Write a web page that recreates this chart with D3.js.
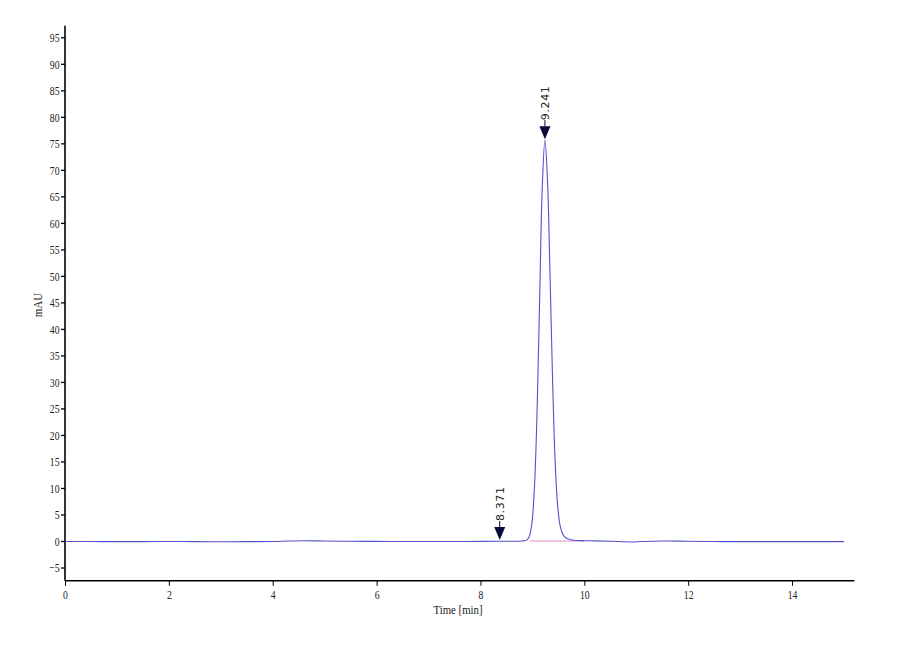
<!DOCTYPE html>
<html><head><meta charset="utf-8">
<script src="https://cdn.jsdelivr.net/npm/d3@7/dist/d3.min.js"></script>
<style>body{margin:0;background:#fff;}svg{display:block;}</style>
</head><body>
<svg id="c" width="900" height="660"></svg>
<script>
// Chromatogram trace (time in min, signal in mAU)
const times = [0,0.5,1,1.5,2,2.5,3,3.5,4,4.3,4.6,5,5.5,6,6.5,7,7.5,8,8.371,8.6,8.8,
  8.89,8.94,8.99,9.04,9.09,9.14,9.19,9.241,9.29,9.34,9.39,9.44,9.49,9.54,9.59,9.64,9.74,9.94,
  10.2,10.5,10.9,11.1,11.5,12,12.5,13,13.5,14,14.5,15];
const signal = [-0.1,-0.1,-0.12,-0.12,-0.1,-0.12,-0.15,-0.12,-0.1,0.0,0.05,0.0,-0.05,-0.08,-0.1,-0.1,-0.1,-0.08,-0.05,-0.05,0.0,
  0.17,0.84,3.33,10.2,24.5,45.9,66.7,75.6,68.2,50.0,29.8,14.5,6.2,2.6,1.2,0.6,0.25,0.08,
  0.02,-0.05,-0.18,-0.1,0.0,-0.05,-0.1,-0.12,-0.12,-0.12,-0.12,-0.12];
// Peak annotations
const peakTimes = [8.371, 9.241];
const peakHeights = [0.0, 75.6];
const peakLabels = ["8.371", "9.241"];
// Integration baseline segment
const baseStart = [8.95], baseEnd = [10.0];
// Axis ticks
const xTicks = [0,2,4,6,8,10,12,14];
const yTicks = [-5,0,5,10,15,20,25,30,35,40,45,50,55,60,65,70,75,80,85,90,95];

const svg = d3.select("#c");
const x = d3.scaleLinear().domain([0,15]).range([65,844]);
const y = d3.scaleLinear().domain([0,95]).range([541,37.3]);
const xAxisY = y(-7.5), yTop = y(97.2), xRight = x(15.2);
const font = "'Liberation Serif','Times New Roman',serif";
const SX = 0.72;

// axes
const gy = svg.append("g").attr("transform","translate(65,0)")
  .call(d3.axisLeft(y).tickValues(yTicks).tickSize(4).tickSizeOuter(0).tickPadding(2));
gy.select(".domain").remove();
svg.append("line").attr("x1",65).attr("x2",65).attr("y1",yTop).attr("y2",xAxisY)
  .attr("stroke","#000").attr("stroke-width",1.6);
gy.selectAll("text").attr("font-family",font).attr("font-size",13.5).attr("fill","#222")
  .attr("x",-5.5/SX).attr("transform",`scale(${SX},1)`);
gy.selectAll("line").attr("stroke","#000").attr("stroke-width",1.3);

const gx = svg.append("g").attr("transform",`translate(0,${xAxisY})`)
  .call(d3.axisBottom(x).tickValues(xTicks).tickSize(5).tickSizeOuter(0).tickPadding(4));
gx.select(".domain").remove();
svg.append("line").attr("x1",65).attr("x2",xRight).attr("y1",xAxisY).attr("y2",xAxisY)
  .attr("stroke","#000").attr("stroke-width",1.6);
gx.selectAll("text").attr("font-family",font).attr("font-size",13.5).attr("fill","#222")
  .attr("transform",`scale(${SX},1)`);
gx.selectAll("line").attr("stroke","#000").attr("stroke-width",1);

svg.append("text").attr("transform","translate(458,614) scale(0.8,1)").attr("text-anchor","middle")
  .attr("font-family",font).attr("font-size",13.5).attr("fill","#222").text("Time [min]");
svg.append("text").attr("transform","translate(42,305) rotate(-90) scale(0.85,1)").attr("text-anchor","middle")
  .attr("font-family",font).attr("font-size",13).attr("fill","#222").text("mAU");

// integration baseline
svg.selectAll("line.base").data(baseStart).enter().append("line")
  .attr("x1",d=>x(d)).attr("x2",(d,i)=>x(baseEnd[i])).attr("y1",y(0)).attr("y2",y(0))
  .attr("stroke","#e58ac8").attr("stroke-width",1.2);

// trace
const pts = times.map((t,i)=>[t,signal[i]]);
svg.append("path").datum(pts)
  .attr("d", d3.line().x(d=>x(d[0])).y(d=>y(d[1])).curve(d3.curveCatmullRom.alpha(0.5)))
  .attr("fill","none").attr("stroke","#5252cc").attr("stroke-width",1.1);

// peak markers
peakTimes.forEach((t,i)=>{
  const px = x(t), tip = y(peakHeights[i]) - 1;
  svg.append("path").attr("d",`M${px-5.5},${tip-13}L${px+5.5},${tip-13}L${px},${tip}Z`).attr("fill","#0a0a3a");
  svg.append("line").attr("x1",px).attr("x2",px).attr("y1",tip-13).attr("y2",tip-19)
    .attr("stroke","#0a0a3a").attr("stroke-width",1);
  svg.append("text").attr("transform",`translate(${px+4},${tip-19}) rotate(-90)`)
    .attr("font-family","'DejaVu Sans',sans-serif").attr("font-size",11).attr("letter-spacing",0.6)
    .attr("fill","#222").text(peakLabels[i]);
});
</script>
</body></html>
